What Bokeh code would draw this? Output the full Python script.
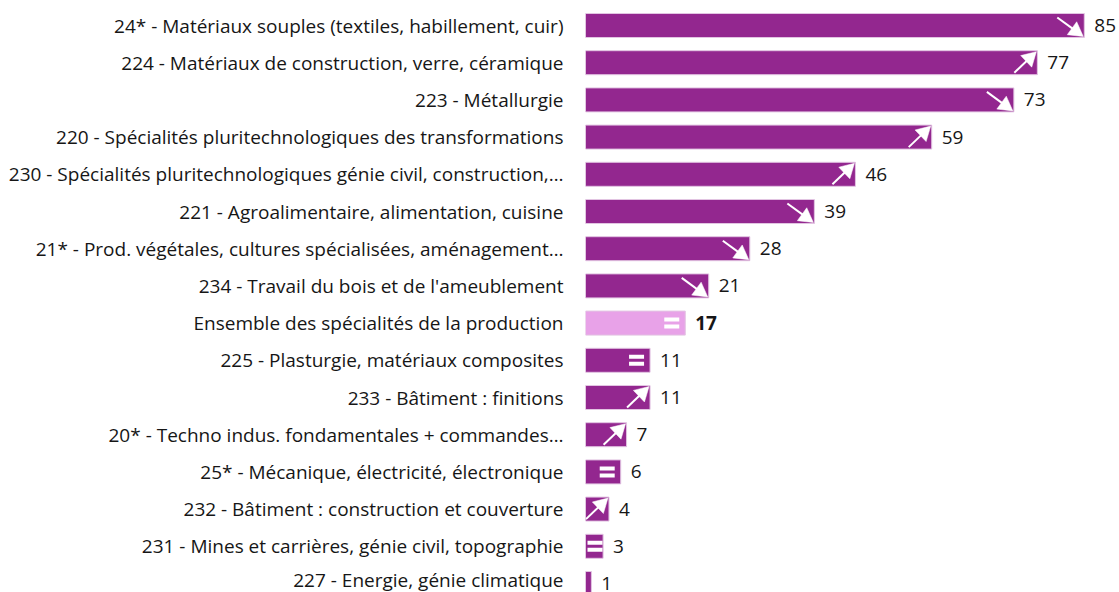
import math
from bokeh.plotting import figure
from bokeh.models import Range1d, FixedTicker, ColumnDataSource
from bokeh.embed import file_html
from bokeh.resources import INLINE

# ---- data ----
labels = [
    "24* - Matériaux souples (textiles, habillement, cuir)",
    "224 - Matériaux de construction, verre, céramique",
    "223 - Métallurgie",
    "220 - Spécialités pluritechnologiques des transformations",
    "230 - Spécialités pluritechnologiques génie civil, construction,…",
    "221 - Agroalimentaire, alimentation, cuisine",
    "21* - Prod. végétales, cultures spécialisées, aménagement…",
    "234 - Travail du bois et de l'ameublement",
    "Ensemble des spécialités de la production",
    "225 - Plasturgie, matériaux composites",
    "233 - Bâtiment : finitions",
    "20* - Techno indus. fondamentales + commandes…",
    "25* - Mécanique, électricité, électronique",
    "232 - Bâtiment : construction et couverture",
    "231 - Mines et carrières, génie civil, topographie",
    "227 - Energie, génie climatique",
]
values = [85, 77, 73, 59, 46, 39, 28, 21, 17, 11, 11, 7, 6, 4, 3, 1]
trends = ["down", "up", "down", "up", "up", "down", "down", "down",
          "eq", "eq", "up", "up", "eq", "up", "eq", ""]
highlight = "Ensemble des spécialités de la production"

# ---- layout constants ----
W, H = 1119, 592
FRAME_LEFT = 585
ROW_PX = 37.2
TOP_PX = 25.0
XMAX = 91.0
frame_w = W - FRAME_LEFT
sx = frame_w / XMAX          # px per x unit
sy = ROW_PX                  # px per row

PURPLE = "#93278f"
LIGHT = "#e8a2e8"
TEXT = "#161616"
FONT = "Open Sans"
FS = "19px"

rows = list(range(len(labels)))
colors = [LIGHT if l == highlight else PURPLE for l in labels]

p = figure(width=W, height=H, output_backend="svg", toolbar_location=None,
           x_range=Range1d(0, XMAX),
           y_range=Range1d((H - TOP_PX) / sy, -TOP_PX / sy),
           min_border_left=FRAME_LEFT, min_border_right=0,
           min_border_top=0, min_border_bottom=0)
p.outline_line_color = None
p.xgrid.visible = False
p.ygrid.visible = False
p.xaxis.visible = False
p.background_fill_color = "white"
p.border_fill_color = "white"

p.yaxis.ticker = FixedTicker(ticks=rows)
p.yaxis.major_label_overrides = {i: l for i, l in zip(rows, labels)}
p.yaxis.axis_line_color = None
p.yaxis.major_tick_line_color = None
p.yaxis.minor_tick_line_color = None
p.yaxis.major_tick_out = 0
p.yaxis.major_tick_in = 0
p.yaxis.major_label_standoff = 22
p.yaxis.major_label_text_font = FONT
p.yaxis.major_label_text_font_size = FS
p.yaxis.major_label_text_color = TEXT

src = ColumnDataSource(dict(y=rows, v=values, c=colors, lab=[str(v) for v in values],
                            fw=["bold" if l == highlight else "normal" for l in labels]))
p.hbar(y="y", left=0, right="v", height=24 / sy, fill_color="c",
       line_color="#e2c4e2", line_width=1, source=src)

p.text(x="v", y="y", text="lab", x_offset=10, text_baseline="middle",
       text_align="left", text_font=dict(value=FONT), text_font_size=FS,
       text_font_style="fw", text_color=TEXT, source=src)

# ---- trend icons (pixel offsets relative to bar end / bar centre) ----
def pt(v, r, dx, dy):
    return v + dx / sx, r + dy / sy

seg_x0, seg_y0, seg_x1, seg_y1 = [], [], [], []
head_xs, head_ys = [], []
eq_x, eq_y = [], []
L, HW = 14.0, 8.0
for r, (v, t) in enumerate(zip(values, trends)):
    if t in ("up", "down"):
        if t == "up":
            tail, tip = (-23.0, 10.0), (-1.0, -11.0)
        else:
            tail, tip = (-27.0, -8.0), (-1.0, 11.0)
        ddx, ddy = tip[0] - tail[0], tip[1] - tail[1]
        n = math.hypot(ddx, ddy)
        ux, uy = ddx / n, ddy / n
        bx, by = tip[0] - L * ux, tip[1] - L * uy
        px, py = -uy, ux
        a = pt(v, r, *tip)
        b = pt(v, r, bx + HW * px, by + HW * py)
        c = pt(v, r, bx - HW * px, by - HW * py)
        head_xs.append([a[0], b[0], c[0]])
        head_ys.append([a[1], b[1], c[1]])
        s0 = pt(v, r, *tail)
        s1 = pt(v, r, bx + 2 * ux, by + 2 * uy)
        seg_x0.append(s0[0]); seg_y0.append(s0[1])
        seg_x1.append(s1[0]); seg_y1.append(s1[1])
    elif t == "eq":
        cx = max(v - 13.5 / sx, 9.5 / sx)
        for d in (-3.5, 3.5):
            eq_x.append(cx)
            eq_y.append(r + d / sy)

p.segment(x0=seg_x0, y0=seg_y0, x1=seg_x1, y1=seg_y1, line_color="white", line_width=2)
p.patches(xs=head_xs, ys=head_ys, fill_color="white", line_color="white", line_width=0.5)
p.rect(x=eq_x, y=eq_y, width=15, height=4, width_units="screen", height_units="screen",
       fill_color="white", line_color=None)

open("out.html", "w").write(file_html(p, INLINE))
